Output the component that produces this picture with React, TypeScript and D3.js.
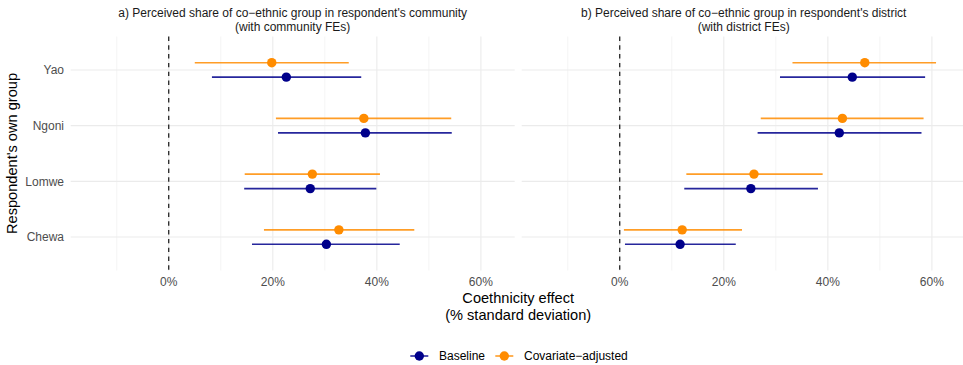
import React from 'react';
import * as d3 from 'd3';

// groups, bottom to top
const groups = ['Chewa', 'Lomwe', 'Ngoni', 'Yao'];

const panelTitles = [
  ["a) Perceived share of co\u2212ethnic group in respondent's community", '(with community FEs)'],
  ["b) Perceived share of co\u2212ethnic group in respondent's district", '(with district FEs)'],
];

// values in %, order follows groups
const baseEstA = [30.3, 27.2, 37.8, 22.6];
const baseLoA = [16.0, 14.5, 21.0, 8.3];
const baseHiA = [44.4, 39.9, 54.4, 37.0];
const adjEstA = [32.7, 27.6, 37.5, 19.8];
const adjLoA = [18.3, 14.6, 20.6, 5.0];
const adjHiA = [47.2, 40.6, 54.3, 34.6];

const baseEstB = [11.6, 25.2, 42.2, 44.7];
const baseLoB = [1.0, 12.4, 26.5, 30.8];
const baseHiB = [22.3, 38.1, 58.0, 58.7];
const adjEstB = [12.0, 25.8, 42.8, 47.1];
const adjLoB = [0.8, 12.8, 27.1, 33.2];
const adjHiB = [23.5, 39.0, 58.4, 60.8];

const seriesNames = ['Baseline', 'Covariate\u2212adjusted'];
const seriesColors = ['#00008B', '#FF8C00'];

const majorTicks = [0, 20, 40, 60];
const minorTicks = [-10, 10, 30, 50];

const FONT = 'Liberation Sans, Arial, sans-serif';

const panels = [
  {
    title: panelTitles[0],
    series: [
      { est: baseEstA, lo: baseLoA, hi: baseHiA },
      { est: adjEstA, lo: adjLoA, hi: adjHiA },
    ],
  },
  {
    title: panelTitles[1],
    series: [
      { est: baseEstB, lo: baseLoB, hi: baseHiB },
      { est: adjEstB, lo: adjLoB, hi: adjHiB },
    ],
  },
];

const Panel = ({ panel, left, width, y }) => {
  const x = d3.scaleLinear().domain([-18.85, 66.5]).range([left, left + width]);
  const [yBottom, yTop] = y.range();
  const dodge = [-0.13, 0.13]; // baseline below, adjusted above
  return (
    <g>
      {minorTicks.map((t) => (
        <line key={'mi' + t} x1={x(t)} x2={x(t)} y1={yTop} y2={yBottom} stroke="#EBEBEB" strokeWidth={0.55} />
      ))}
      {majorTicks.map((t) => (
        <line key={'ma' + t} x1={x(t)} x2={x(t)} y1={yTop} y2={yBottom} stroke="#EBEBEB" strokeWidth={1.1} />
      ))}
      {groups.map((g, i) => (
        <line key={'h' + g} x1={left} x2={left + width} y1={y(i + 1)} y2={y(i + 1)} stroke="#EBEBEB" strokeWidth={1.1} />
      ))}
      <line x1={x(0)} x2={x(0)} y1={yTop} y2={yBottom} stroke="#000" strokeWidth={1.1} strokeDasharray="4.4,4.4" />
      {panel.series.map((s, k) =>
        groups.map((g, i) => {
          const yy = y(i + 1 + dodge[k]);
          return (
            <g key={k + g}>
              <line x1={x(s.lo[i])} x2={x(s.hi[i])} y1={yy} y2={yy} stroke={seriesColors[k]} strokeOpacity={0.85} strokeWidth={1.6} />
              <circle cx={x(s.est[i])} cy={yy} r={4.7} fill={seriesColors[k]} />
            </g>
          );
        })
      )}
      {majorTicks.map((t) => (
        <text key={'tl' + t} x={x(t)} y={286} textAnchor="middle" fontSize={12} fill="#4D4D4D" fontFamily={FONT}>
          {d3.format('.0f')(t) + '%'}
        </text>
      ))}
      {panel.title.map((line, j) => (
        <text key={'st' + j} x={left + width / 2} y={17 + j * 13.5} textAnchor="middle" fontSize={12} fill="#1A1A1A" fontFamily={FONT}>
          {line}
        </text>
      ))}
    </g>
  );
};

const App = () => {
  const W = 963;
  const H = 365;
  const panelW = 444;
  const lefts = [70.7, 521.7];
  const y = d3.scaleLinear().domain([0.4, 4.6]).range([270.5, 36.5]);
  const plotCenter = (lefts[0] + lefts[1] + panelW) / 2;

  return (
    <svg width={W} height={H} style={{ position: 'absolute', left: 0, top: 0 }}>
      <rect width={W} height={H} fill="#fff" />
      {panels.map((p, i) => (
        <Panel key={i} panel={p} left={lefts[i]} width={panelW} y={y} />
      ))}
      {groups.map((g, i) => (
        <text key={g} x={64} y={y(i + 1) + 4.2} textAnchor="end" fontSize={12} fill="#4D4D4D" fontFamily={FONT}>
          {g}
        </text>
      ))}
      <text transform={`translate(17,${(y(0.4) + y(4.6)) / 2}) rotate(-90)`} textAnchor="middle" fontSize={14.6} fill="#000" fontFamily={FONT}>
        Respondent's own group
      </text>
      <text x={plotCenter} y={303} textAnchor="middle" fontSize={14.6} fill="#000" fontFamily={FONT}>
        Coethnicity effect
      </text>
      <text x={plotCenter} y={319.5} textAnchor="middle" fontSize={14.6} fill="#000" fontFamily={FONT}>
        (% standard deviation)
      </text>
      <g>
        {[{ cx: 419.3, tx: 439 }, { cx: 504.3, tx: 524 }].map((l, k) => (
          <g key={k}>
            <line x1={l.cx - 9} x2={l.cx + 9} y1={356} y2={356} stroke={seriesColors[k]} strokeOpacity={0.85} strokeWidth={1.6} />
            <circle cx={l.cx} cy={356} r={4.7} fill={seriesColors[k]} />
            <text x={l.tx} y={360} fontSize={12} fill="#000" fontFamily={FONT}>
              {seriesNames[k]}
            </text>
          </g>
        ))}
      </g>
    </svg>
  );
};

export default App;
